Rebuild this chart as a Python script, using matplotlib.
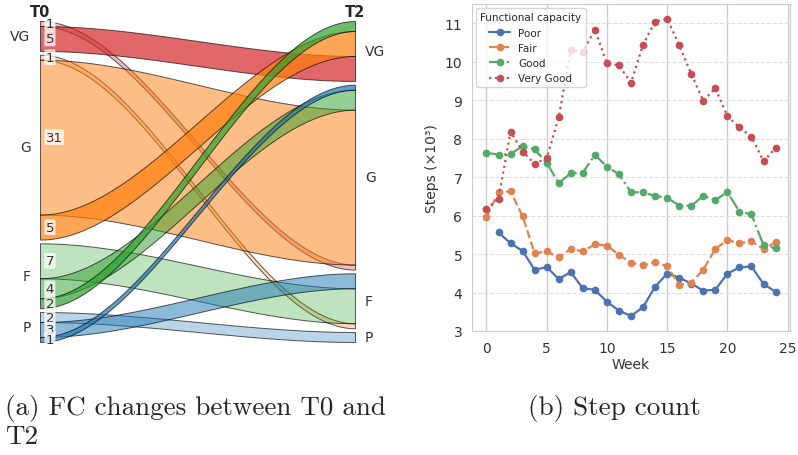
import numpy as np
import matplotlib
matplotlib.use("Agg")
import matplotlib.pyplot as plt
import seaborn as sns
from matplotlib.colors import to_rgba

sns.set_style("whitegrid")
plt.rcParams['font.family'] = ['DejaVu Sans']

# ---- data: functional capacity flows T0 -> T2
levels = ['VG', 'G', 'F', 'P']          # drawn top to bottom
flow_src = ['VG', 'VG', 'G', 'G', 'G', 'F', 'F', 'F', 'P', 'P', 'P']
flow_dst = ['G', 'VG', 'F', 'G', 'VG', 'F', 'G', 'VG', 'P', 'F', 'G']
flow_n = [1, 5, 1, 31, 5, 7, 4, 2, 2, 3, 1]
flow_alpha = [0.3, 0.7, 0.3, 0.5, 0.7, 0.3, 0.5, 0.7, 0.3, 0.5, 0.7]
level_color = {'VG': 'tab:red', 'G': 'tab:orange', 'F': 'tab:green', 'P': 'tab:blue'}

# ---- data: weekly step count (x1000) per group
weeks = list(range(25))
poor = [np.nan, 5.56, 5.28, 5.08, 4.59, 4.66, 4.35, 4.53, 4.11, 4.07, 3.76, 3.53, 3.39,
        3.62, 4.15, 4.49, 4.39, 4.23, 4.05, 4.07, 4.49, 4.65, 4.68, 4.22, 4.02]
fair = [5.96, 6.61, 6.63, 5.98, 5.02, 5.07, 4.91, 5.13, 5.07, 5.25, 5.22, 4.98, 4.77,
        4.71, 4.79, 4.68, 4.20, 4.26, 4.59, 5.13, 5.36, 5.28, 5.33, 5.13, 5.30]
good = [7.63, 7.58, 7.60, 7.80, 7.72, 7.37, 6.84, 7.10, 7.11, 7.58, 7.27, 7.07, 6.61,
        6.60, 6.51, 6.46, 6.26, 6.25, 6.51, 6.40, 6.61, 6.10, 6.03, 5.23, 5.15]
very_good = [6.17, 6.44, 8.18, 7.66, 7.35, 7.49, 8.55, 10.31, 10.25, 10.83, 9.96, 9.90, 9.45,
             10.44, 11.04, 11.11, 10.43, 9.68, 8.98, 9.31, 8.58, 8.29, 8.05, 7.41, 7.75]

fig = plt.figure(figsize=(7.98, 4.56), dpi=100)

# ================= (a) sankey =================
gap = 0.75
rank = {'P': 0, 'F': 1, 'G': 2, 'VG': 3}
idx = list(range(len(flow_n)))

def node_tops(key):
    tops, y = {}, 0.0
    for lv in levels:
        tops[lv] = y
        y += sum(flow_n[i] for i in idx if key(i) == lv) + gap
    return tops, y - gap

left_top, total = node_tops(lambda i: flow_src[i])
right_top, _ = node_tops(lambda i: flow_dst[i])

# stacking positions at both ends
y_left, y_right = {}, {}
for lv in levels:
    y = left_top[lv]
    for i in sorted([i for i in idx if flow_src[i] == lv], key=lambda i: rank[flow_dst[i]]):
        y_left[i] = (y, y + flow_n[i])
        y += flow_n[i]
    y = right_top[lv]
    for i in sorted([i for i in idx if flow_dst[i] == lv], key=lambda i: rank[flow_src[i]]):
        y_right[i] = (y, y + flow_n[i])
        y += flow_n[i]

axa = fig.add_axes([40 / 798, (456 - 343) / 456, 315 / 798, 321 / 456])
axa.set_xlim(0, 1)
axa.set_ylim(total, 0)
axa.axis('off')

x = np.linspace(0, 1, 200)
s = 3 * x ** 2 - 2 * x ** 3
for i in idx:
    (l0, l1), (r0, r1) = y_left[i], y_right[i]
    top = l0 + (r0 - l0) * s
    bot = l1 + (r1 - l1) * s
    axa.fill_between(x, top, bot, facecolor=to_rgba(level_color[flow_src[i]], flow_alpha[i]),
                     edgecolor=(0, 0, 0, 0.65), linewidth=0.7)
    axa.text(0.018, (l0 + l1) / 2, str(flow_n[i]), ha='left', va='center', fontsize=9.5,
             color='#333333',
             bbox=dict(boxstyle='round,pad=0.1', fc='white', ec='none', alpha=0.75))

for lv in levels:
    n_l = sum(flow_n[i] for i in idx if flow_src[i] == lv)
    n_r = sum(flow_n[i] for i in idx if flow_dst[i] == lv)
    axa.text(-0.03, left_top[lv] + n_l / 2, lv, ha='right', va='center', fontsize=10,
             color='#333333', clip_on=False)
    axa.text(1.032, right_top[lv] + n_r / 2, lv, ha='left', va='center', fontsize=10,
             color='#333333', clip_on=False)

axa.text(0, -1.9, 'T0', ha='center', va='center', fontsize=10.5, fontweight='bold', clip_on=False)
axa.text(1, -1.9, 'T2', ha='center', va='center', fontsize=10.5, fontweight='bold', clip_on=False)

# ================= (b) step count =================
axb = fig.add_axes([472 / 798, (456 - 332) / 456, 318 / 798, 327 / 456])
pal = sns.color_palette('deep')
axb.plot(weeks, poor, '-o', color=pal[0], lw=1.6, ms=4.5, label='Poor')
axb.plot(weeks, fair, '--o', color=pal[1], lw=1.6, ms=4.5, label='Fair')
axb.plot(weeks, good, '-.o', color=pal[2], lw=1.6, ms=4.5, label='Good')
axb.plot(weeks, very_good, ':o', color=pal[3], lw=1.6, ms=4.5, label='Very Good')

axb.set_xlim(-1.2, 25.2)
axb.set_ylim(bottom=3)
axb.set_xticks([0, 5, 10, 15, 20, 25])
axb.set_yticks(range(3, 12))
axb.xaxis.grid(True, ls='-', color='0.8', lw=1)
axb.yaxis.grid(True, ls='--', color='0.87', lw=0.8)
axb.tick_params(labelsize=10, colors='#333333')
axb.set_xlabel('Week', fontsize=10, color='#333333', labelpad=2)
axb.set_ylabel('Steps (×10³)', fontsize=10, color='#333333')
leg = axb.legend(title='Functional capacity', loc='upper left', fontsize=7.5,
                 title_fontsize=7.5, borderaxespad=0.4, handlelength=2)

# ================= captions =================
fig.text(5 / 798, 1 - 395 / 456, '(a) FC changes between T0 and\nT2', ha='left', va='top',
         fontsize=19.5, family='cmr10', linespacing=1.15)
fig.text(528 / 798, 1 - 395 / 456, '(b) Step count', ha='left', va='top', fontsize=19.5,
         family='cmr10')

fig.savefig('out.png', dpi=100)
